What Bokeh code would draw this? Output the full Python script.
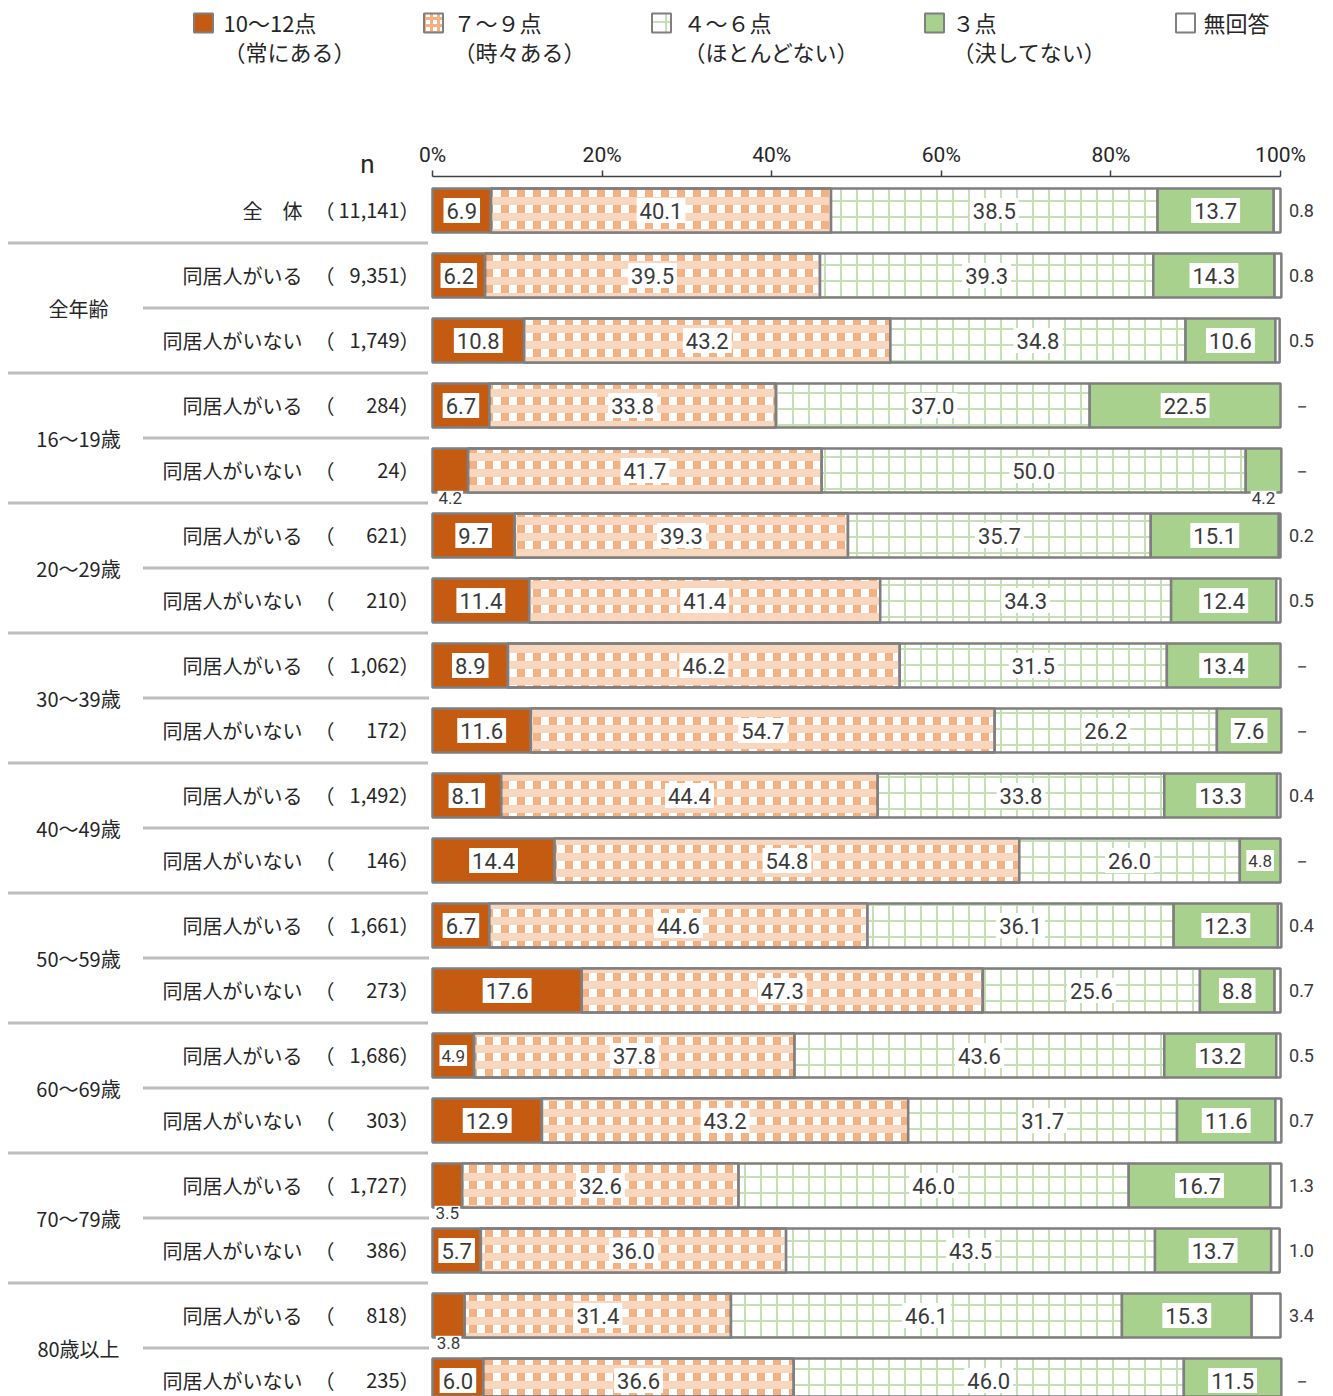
from bokeh.plotting import figure
from bokeh.models import Range1d, FixedTicker, PrintfTickFormatter, LinearAxis
from bokeh.embed import file_html
from bokeh.resources import INLINE
from bokeh.core.properties import value

# ---------------- data ----------------
group_names = ["全年齢", "16～19歳", "20～29歳", "30～39歳", "40～49歳",
               "50～59歳", "60～69歳", "70～79歳", "80歳以上"]
row_labels = ["全　体"] + ["同居人がいる", "同居人がいない"] * 9
n_values = ["11,141", "9,351", "1,749", "284", "24", "621", "210", "1,062", "172",
            "1,492", "146", "1,661", "273", "1,686", "303", "1,727", "386", "818", "235"]
s10_12 = [6.9, 6.2, 10.8, 6.7, 4.2, 9.7, 11.4, 8.9, 11.6, 8.1, 14.4, 6.7, 17.6, 4.9, 12.9, 3.5, 5.7, 3.8, 6.0]
s7_9 = [40.1, 39.5, 43.2, 33.8, 41.7, 39.3, 41.4, 46.2, 54.7, 44.4, 54.8, 44.6, 47.3, 37.8, 43.2, 32.6, 36.0, 31.4, 36.6]
s4_6 = [38.5, 39.3, 34.8, 37.0, 50.0, 35.7, 34.3, 31.5, 26.2, 33.8, 26.0, 36.1, 25.6, 43.6, 31.7, 46.0, 43.5, 46.1, 46.0]
s3 = [13.7, 14.3, 10.6, 22.5, 4.2, 15.1, 12.4, 13.4, 7.6, 13.3, 4.8, 12.3, 8.8, 13.2, 11.6, 16.7, 13.7, 15.3, 11.5]
s_na = [0.8, 0.8, 0.5, 0.0, 0.0, 0.2, 0.5, 0.0, 0.0, 0.4, 0.0, 0.4, 0.7, 0.5, 0.7, 1.3, 1.0, 3.4, 0.0]
legend_names = ["10～12点", "７～９点", "４～６点", "３点", "無回答"]
legend_subs = ["（常にある）", "（時々ある）", "（ほとんどない）", "（決してない）", ""]
ticks = [0, 20, 40, 60, 80, 100]

N = len(row_labels)
W, H = 1333, 1396
PX = 8.48   # pixels per percent
RY = 65.0   # pixels per row
X0, Y0 = 432, 210  # pixel position of 0% and of first row centre


def X(px):
    return (px - X0) / PX


def Y(py):
    return (py - Y0) / RY


JP = "Noto Sans CJK JP"
NUM = "Roboto"
TXT = "#262626"
LBL = "#3a3a3a"
GRAY = "#7F7F7F"
ORANGE = "#C55A11"
LORANGE = "#F4B183"
PORANGE = "#F9D6BE"
GREEN = "#A9D18E"
LGREEN = "#C5E0B4"

styles = [
    dict(fill_color=ORANGE),
    dict(fill_color="white", hatch_pattern="vertical_line", hatch_color=LORANGE, hatch_weight=8, hatch_scale=16),
    dict(fill_color="white", hatch_pattern="cross", hatch_color=LGREEN, hatch_weight=2, hatch_scale=16),
    dict(fill_color=GREEN),
    dict(fill_color="white"),
]
overlay = {1: dict(fill_alpha=0, hatch_pattern="horizontal_line", hatch_color=PORANGE,
                   hatch_weight=8, hatch_scale=16)}

p = figure(width=W, height=H, output_backend="svg", toolbar_location=None,
           x_range=Range1d(X(0), X(W)), y_range=Range1d(Y(H), Y(0)),
           x_axis_location=None, y_axis_location=None, min_border=0)
p.outline_line_color = None
p.grid.visible = False

# x axis at top of bars
ax = LinearAxis(fixed_location=Y(176))
ax.ticker = FixedTicker(ticks=ticks)
ax.formatter = PrintfTickFormatter(format="%d%%")
ax.bounds = (0, 100)
ax.major_tick_in = 0
ax.major_tick_out = 6
ax.minor_tick_in = 0
ax.minor_tick_out = 0
ax.axis_line_color = "#404040"
ax.axis_line_width = 1.5
ax.major_tick_line_color = "#404040"
ax.major_tick_line_width = 1.5
ax.major_label_text_font = "Roboto"
ax.major_label_text_font_size = "21px"
ax.major_label_text_color = TXT
ax.major_label_standoff = 4
p.add_layout(ax, "above")

# ---------------- legend ----------------
sw_px = [203, 433, 661, 934, 1185]
tx_px = [223, 453, 683, 952, 1203]
for k, st in enumerate(styles):
    st2 = dict(st)
    if "hatch_scale" in st2:
        st2 = dict(fill_color="white", hatch_pattern="cross",
                   hatch_color=LORANGE if k == 1 else LGREEN,
                   hatch_weight=3 if k == 1 else 2, hatch_scale=7 if k == 1 else 14)
    p.rect(x=[X(sw_px[k])], y=[Y(22.5)], width=19 / PX, height=19 / RY,
           line_color=GRAY, line_width=2, **st2)
p.text(x=[X(v) for v in tx_px], y=[Y(21)] * 5, text=legend_names, text_font=value(JP),
       text_font_size="22px", text_color=TXT, text_baseline="middle", text_align="left")
p.text(x=[X(v) for v in tx_px], y=[Y(50)] * 5, text=legend_subs, text_font=value(JP),
       text_font_size="22px", text_color=TXT, text_baseline="middle", text_align="left")

# ---------------- separators ----------------
long_y = [i + 0.5 for i in range(0, N - 1, 2)]
short_y = [i + 0.5 for i in range(1, N - 1, 2)]
p.segment(x0=[X(8)] * len(long_y), y0=long_y, x1=[X(428)] * len(long_y), y1=long_y,
          line_color="#7a7a7a", line_width=3, line_dash="1 1")
p.segment(x0=[X(143)] * len(short_y), y0=short_y, x1=[X(428)] * len(short_y), y1=short_y,
          line_color="#7a7a7a", line_width=3, line_dash="1 1")

# ---------------- bars ----------------
series = [s10_12, s7_9, s4_6, s3, s_na]
cum = [0.0] * N
lab_x, lab_y, lab_t = [], [], []
sm_x, sm_y, sm_t = [], [], []
bl_x, bl_y, bl_t = [], [], []
BH = 0.68
for k, (vals, st) in enumerate(zip(series, styles)):
    ys, ls, rs = [], [], []
    for i, v in enumerate(vals):
        if v > 0:
            ys.append(i)
            ls.append(cum[i])
            rs.append(cum[i] + v)
            if k < 4:
                cx = cum[i] + v / 2
                t = f"{v:.1f}"
                if v < 4.5:
                    bl_x.append(cx); bl_y.append(i + BH / 2 + 0.08); bl_t.append(t)
                elif v < 5:
                    sm_x.append(cx); sm_y.append(i); sm_t.append(t)
                else:
                    lab_x.append(cx); lab_y.append(i); lab_t.append(t)
        cum[i] += v
    p.hbar(y=ys, left=ls, right=rs, height=BH, line_color=GRAY, line_width=2.5, **st)
    if k in overlay:
        p.hbar(y=ys, left=ls, right=rs, height=BH, line_color=GRAY, line_width=2.5, **overlay[k])

p.text(x=lab_x, y=lab_y, text=lab_t, text_align="center", text_baseline="middle",
       text_font=value(NUM), text_font_size="22px", text_color=LBL,
       background_fill_color="white", padding=dict(left=3, right=3, top=5, bottom=4))
p.text(x=sm_x, y=sm_y, text=sm_t, text_align="center", text_baseline="middle",
       text_font=value(NUM), text_font_size="17px", text_color=LBL,
       background_fill_color="white", padding=dict(left=2, right=2, top=5, bottom=4))
p.text(x=bl_x, y=bl_y, text=bl_t, text_align="center", text_baseline="middle",
       text_font=value(NUM), text_font_size="17px", text_color=LBL,
       background_fill_color="white", padding=1)

# no-answer values at right
na_t = [f"{v:.1f}" if v > 0 else "－" for v in s_na]
p.text(x=[X(1301)] * N, y=list(range(N)), text=na_t, text_align="center", text_baseline="middle",
       text_font=value(NUM), text_font_size="18px", text_color=LBL)

# ---------------- left labels ----------------
rows = list(range(N))
p.text(x=[X(302)] * N, y=rows, text=row_labels, text_align="right", text_baseline="middle",
       text_font=value(JP), text_font_size="20px", text_color=TXT)
p.text(x=[X(314)] * N, y=rows, text=["（"] * N, text_align="left", text_baseline="middle",
       text_font=value(JP), text_font_size="20px", text_color=TXT)
p.text(x=[X(399)] * N, y=rows, text=n_values, text_align="right", text_baseline="middle",
       text_font=value(JP), text_font_size="20px", text_color=TXT)
p.text(x=[X(399)] * N, y=rows, text=["）"] * N, text_align="left", text_baseline="middle",
       text_font=value(JP), text_font_size="20px", text_color=TXT)
p.text(x=[X(78)] * len(group_names), y=[2 * k + 1.5 for k in range(len(group_names))],
       text=group_names, text_align="center", text_baseline="middle",
       text_font=value(JP), text_font_size="20px", text_color=TXT)
p.text(x=[X(367)], y=[Y(163)], text=["n"], text_align="center", text_baseline="middle",
       text_font=value(NUM), text_font_size="26px", text_color=TXT)

open("out.html", "w").write(file_html(p, INLINE))
